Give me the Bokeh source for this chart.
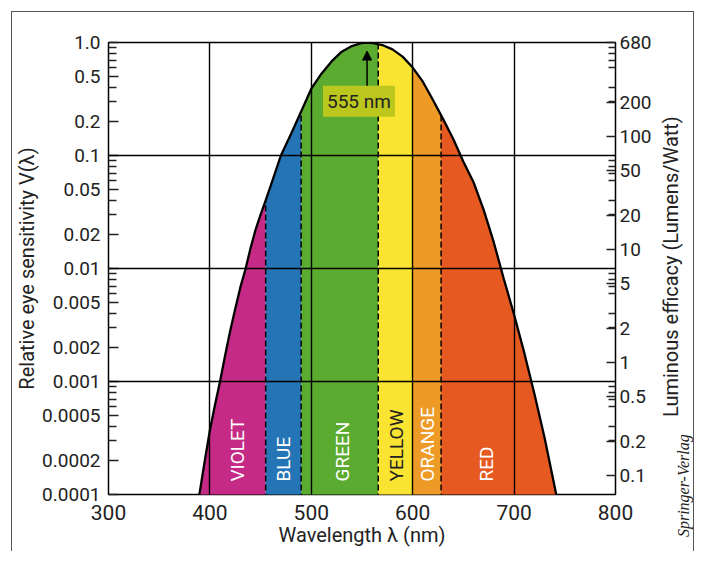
import numpy as np
from bokeh.plotting import figure
from bokeh.models import (Range1d, LogAxis, LogScale, FixedTicker, Label, Arrow,
                          NormalHead, ColumnDataSource)
from bokeh.core.properties import value
from bokeh.embed import file_html
from bokeh.resources import INLINE

# ---------------- data ----------------
wavelength = [388, 390, 395, 400, 405, 410, 415, 420, 425, 430, 435, 440, 445, 450,
              455, 460, 470, 480, 490, 500, 510, 520, 530, 540, 550, 555, 560, 570,
              580, 590, 600, 610, 620, 630, 640, 650, 660, 670, 680, 690, 700, 710,
              720, 730, 740, 745]
sensitivity = [0.000085, 0.000105, 0.0002, 0.00037, 0.00062, 0.0010, 0.0017, 0.0028,
               0.0044, 0.0068, 0.0098, 0.015, 0.022, 0.030, 0.040, 0.054, 0.10, 0.155,
               0.245, 0.39, 0.53, 0.68, 0.83, 0.93, 0.99, 1.0, 0.99, 0.95, 0.87, 0.75,
               0.60, 0.45, 0.31, 0.21, 0.14, 0.088, 0.058, 0.033, 0.017, 0.0080, 0.0039,
               0.0018, 0.00078, 0.00032, 0.000117, 0.00007]

band_names = ["VIOLET", "BLUE", "GREEN", "YELLOW", "ORANGE", "RED"]
band_edges = [455, 490, 566, 600, 628]
band_colors = ["#C52A86", "#2574B6", "#5CAB31", "#F9E531", "#EE9A26", "#E65921"]
band_label_colors = ["#FFFFFF", "#FFFFFF", "#FFFFFF", "#222222", "#FFFFFF", "#FFFFFF"]
band_label_nm = [427, 473, 531, 584, 615, 673]

x_ticks = [300, 400, 500, 600, 700, 800]
y_ticks = [1.0, 0.5, 0.2, 0.1, 0.05, 0.02, 0.01, 0.005, 0.002, 0.001, 0.0005, 0.0002, 0.0001]
y_tick_labels = ["1.0", "0.5", "0.2", "0.1", "0.05", "0.02", "0.01", "0.005", "0.002",
                 "0.001", "0.0005", "0.0002", "0.0001"]
y_minor_mult = [3, 4, 6, 7, 8, 9]
eff_ticks = [680, 200, 100, 50, 20, 10, 5, 2, 1, 0.5, 0.2, 0.1]
eff_tick_labels = ["680", "200", "100", "50", "20", "10", "5", "2", "1", "0.5", "0.2", "0.1"]
max_efficacy = 680

peak_nm = 555
peak_text = "555 nm"

# ---------------- layout constants ----------------
FONT = "Roboto"
TXT = "#222222"
y_lo, y_hi = 1e-4, 1.0
floor = 1e-5

p = figure(width=683, height=540, x_range=Range1d(300, 800), y_range=Range1d(y_lo, y_hi),
           y_axis_type="log", output_backend="svg", toolbar_location=None,
           min_border_left=96, min_border_right=79, min_border_top=30, min_border_bottom=58)
p.margin = (11, 0, 0, 11)
p.styles = {"border-top": "1.5px solid #555555", "border-left": "1.5px solid #555555",
            "border-right": "1.5px solid #555555"}
p.background_fill_color = "white"
p.border_fill_color = "white"
p.outline_line_color = "black"
p.outline_line_width = 1.5

p.extra_y_ranges = {"eff": Range1d(y_lo * max_efficacy, y_hi * max_efficacy)}
p.extra_y_scales = {"eff": LogScale()}

# grids (inside lines only)
p.xgrid.ticker = FixedTicker(ticks=x_ticks[1:-1])
p.ygrid.ticker = FixedTicker(ticks=[t for t in y_ticks if t in (0.1, 0.01, 0.001)])
for g in (p.xgrid[0], p.ygrid[0]):
    g.grid_line_color = "black"
    g.grid_line_width = 1.4
    g.level = "guide"

# bands
lw = np.array(wavelength, dtype=float)
lv = np.log10(np.array(sensitivity, dtype=float))
edges = [lw[0]] + band_edges + [lw[-1]]
for i in range(len(band_names)):
    lo, hi = edges[i], edges[i + 1]
    inner = lw[(lw > lo) & (lw < hi)]
    xs = np.concatenate([[lo], inner, [hi]])
    ys = 10 ** np.interp(xs, lw, lv)
    p.varea(x=xs, y1=np.full(len(xs), floor), y2=ys, fill_color=band_colors[i])

dashed = [e for e in band_edges if e not in x_ticks]
p.segment(x0=dashed, y0=[floor] * len(dashed), x1=dashed,
          y1=list(10 ** np.interp(dashed, lw, lv)),
          line_color="black", line_width=1.5, line_dash="6 3")

p.line(wavelength, sensitivity, line_color="black", line_width=2.3)

lab_src = ColumnDataSource(dict(x=band_label_nm, y=[y_lo] * len(band_names),
                                text=band_names, color=band_label_colors))
p.text(x="x", y="y", text="text", source=lab_src, angle=np.pi / 2, text_align="left",
       text_baseline="middle", text_color="color", text_font=value(FONT),
       text_font_size="19px", y_offset=-13)

# peak annotation
p.add_layout(Arrow(end=NormalHead(size=9, fill_color="black", line_color="black"),
                   x_start=peak_nm, y_start=0.41, x_end=peak_nm, y_end=0.84,
                   line_color="black", line_width=1.5))
p.add_layout(Label(x=peak_nm - 8, y=0.302, text=peak_text, text_align="center",
                   text_baseline="middle", text_font=FONT, text_font_size="19px",
                   text_color=TXT, background_fill_color="#BCC71D", padding=4))

# axes
xa = p.xaxis[0]
xa.ticker = FixedTicker(ticks=x_ticks)
xa.axis_label = "Wavelength λ (nm)"
xa.major_tick_in = 0
xa.major_tick_out = 0
xa.minor_tick_in = 0
xa.minor_tick_out = 0
xa.axis_line_color = None
xa.major_label_standoff = 10
xa.axis_label_standoff = 0

ya = p.yaxis[0]
minor = [m * 10.0 ** k for k in range(-4, 0) for m in y_minor_mult]
ya.ticker = FixedTicker(ticks=y_ticks, minor_ticks=minor)
ya.major_label_overrides = {t: s for t, s in zip(y_ticks, y_tick_labels)}
ya.axis_label = "Relative eye sensitivity V(λ)"
ya.major_tick_in = 10
ya.major_tick_out = 0
ya.minor_tick_in = 8
ya.minor_tick_out = 0
ya.axis_line_color = None
ya.major_label_standoff = 8
ya.axis_label_standoff = 0

ra = LogAxis(y_range_name="eff")
eff_minor = [m * max_efficacy * 10.0 ** k for k in range(-4, 0) for m in y_minor_mult]
ra.ticker = FixedTicker(ticks=eff_ticks, minor_ticks=[v for v in eff_minor if v < max_efficacy])
ra.major_label_overrides = {t: s for t, s in zip(eff_ticks, eff_tick_labels)}
ra.major_tick_in = 9
ra.major_tick_out = 0
ra.minor_tick_in = 7
ra.minor_tick_out = 0
ra.axis_line_color = None
ra.major_label_standoff = 4
p.add_layout(ra, "right")

for ax in (xa, ya, ra):
    ax.major_tick_line_color = TXT
    ax.minor_tick_line_color = TXT
    ax.major_tick_line_width = 1.5
    ax.minor_tick_line_width = 1.5
    ax.major_label_text_font = FONT
    ax.major_label_text_color = TXT
    ax.major_label_text_font_size = "19px"
    ax.axis_label_text_font = FONT
    ax.axis_label_text_font_size = "20px"
    ax.axis_label_text_font_style = "normal"
    ax.axis_label_text_color = TXT
xa.major_label_text_font_size = "21px"

# right-hand title (reads bottom to top) and publisher credit live in the right side panel;
# side-panel labels are placed by data coordinates and are not clipped to the frame
p.add_layout(Label(x=854.6, y=0.0104, text="Luminous efficacy (Lumens/Watt)", angle=np.pi / 2,
                   text_align="center", text_baseline="middle", text_font=FONT,
                   text_font_size="20px", text_color=TXT), "right")
p.add_layout(Label(x=867, y=4.2e-5, text="Springer-Verlag", angle=np.pi / 2,
                   text_align="left", text_baseline="middle", text_font="Liberation Serif",
                   text_font_style="italic", text_font_size="16px", text_color=TXT), "right")

open("out.html", "w").write(file_html(p, INLINE))
